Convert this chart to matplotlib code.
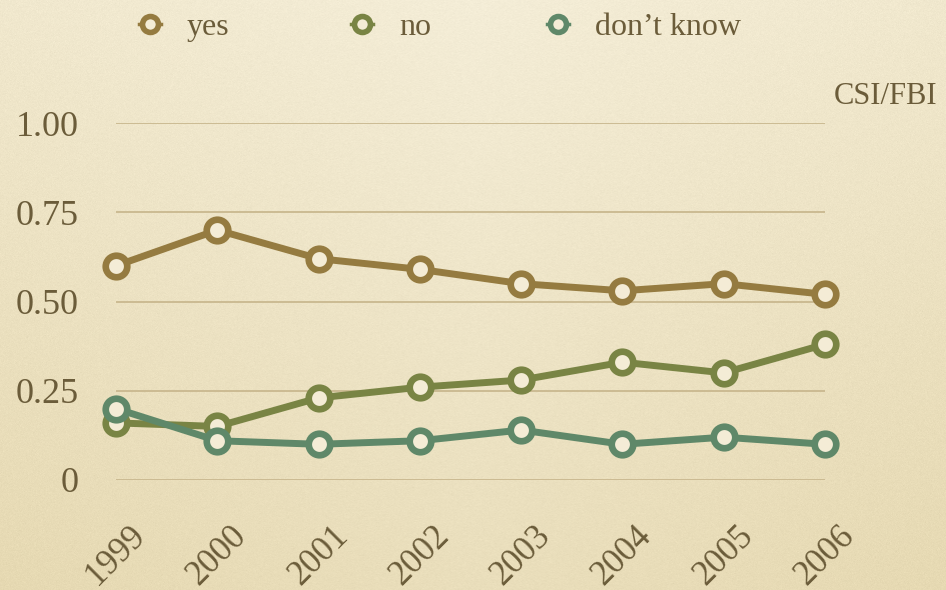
import numpy as np
import matplotlib
matplotlib.use("Agg")
import matplotlib.pyplot as plt
from matplotlib.lines import Line2D

years = ["1999", "2000", "2001", "2002", "2003", "2004", "2005", "2006"]
yes = [0.60, 0.70, 0.62, 0.59, 0.55, 0.53, 0.55, 0.52]
no = [0.16, 0.15, 0.23, 0.26, 0.28, 0.33, 0.30, 0.38]
dont_know = [0.20, 0.11, 0.10, 0.11, 0.14, 0.10, 0.12, 0.10]
series_names = ["yes", "no", "don\u2019t know"]
ytick_vals = [0, 0.25, 0.5, 0.75, 1.0]
ytick_labels = ["0", "0.25", "0.50", "0.75", "1.00"]

colors = ["#957B40", "#798444", "#5F8869"]
txt = "#6B5C3A"
grid_c = "#C9B88F"
fill_c = "#F4ECD6"

plt.rcParams["font.family"] = ["Liberation Serif", "DejaVu Serif"]

fig = plt.figure(figsize=(9.46, 5.9), dpi=100)

# paper background: light at the top, warmer tan towards the bottom corners
bg = fig.add_axes([0, 0, 1, 1], zorder=-10)
yy, xx = np.mgrid[0:590, 0:946]
t = 0.75 * (yy / 590.0) + 0.25 * np.abs(xx - 473) / 473.0
t = np.clip(t, 0, 1)[..., None]
c0 = np.array([0xF4, 0xED, 0xD7]) / 255.0
c1 = np.array([0xE6, 0xD9, 0xB2]) / 255.0
img = c0 * (1 - t) + c1 * t
rng = np.random.default_rng(3)
img = np.clip(img + rng.normal(0, 0.007, img.shape[:2])[..., None], 0, 1)
bg.imshow(img, aspect="auto", extent=[0, 1, 0, 1])
bg.axis("off")

ax = fig.add_axes([116 / 946, 1 - 480 / 590, (825 - 116) / 946, (480 - 123) / 590])
ax.patch.set_alpha(0)

x = np.arange(len(years))
for vals, name, col in zip([yes, no, dont_know], series_names, colors):
    ax.plot(x, vals, color=col, lw=5, marker="o", ms=15.5, mew=4.8,
            mfc=fill_c, mec=col, clip_on=False, zorder=3)

ax.set_xlim(0, len(years) - 1)
ax.set_ylim(0, 1)
ax.set_yticks(ytick_vals)
ax.set_yticklabels(ytick_labels)
ax.set_xticks(x)
ax.set_xticklabels(years, rotation=45)
ax.tick_params(axis="y", length=0, pad=27, labelsize=26, labelcolor=txt)
ax.tick_params(axis="x", length=0, pad=28, labelsize=25, labelcolor=txt)
ax.grid(axis="y", color=grid_c, lw=1.3)
for s in ax.spines.values():
    s.set_visible(False)

ax.text(1.012, 1.035, "CSI/FBI", transform=ax.transAxes, fontsize=22,
        color=txt, ha="left", va="bottom")

# legend row drawn by hand so the uneven spacing can be kept
legend_x = [150, 362, 558]
for lx, name, col in zip(legend_x, series_names, colors):
    fig.add_artist(Line2D([(lx - 11) / 946, (lx + 11) / 946], [1 - 24 / 590] * 2,
                          color=col, lw=2.5, transform=fig.transFigure))
    fig.add_artist(Line2D([lx / 946], [1 - 24 / 590], color=col, marker="o",
                          ms=11.5, mew=4, mfc=fill_c, mec=col,
                          transform=fig.transFigure))
    fig.text((lx + 37) / 946, 1 - 24 / 590, name, fontsize=23, color=txt,
             ha="left", va="center_baseline")

fig.savefig("out.png", dpi=100)
